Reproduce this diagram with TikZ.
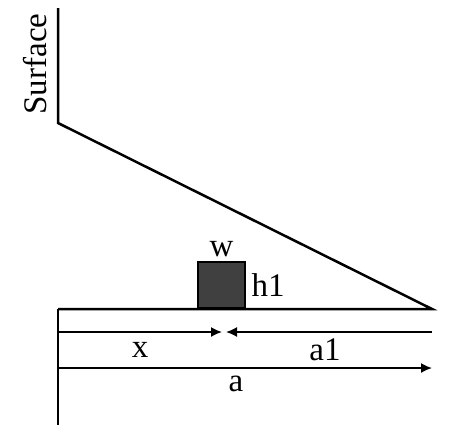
\documentclass[tikz,border=0pt]{standalone}
\usepackage{fontspec}
\setmainfont{Liberation Serif}
\usetikzlibrary{arrows.meta,positioning}
\definecolor{block-grey}{HTML}{404040}

\begin{document}
\begin{tikzpicture}[x=1pt,y=-1pt,font=\fontsize{33}{38}\selectfont,
    dim/.style={line width=1.6pt,-{Latex[length=11pt,width=10pt]}}]
  \useasboundingbox (0,0) rectangle (449,424);
  % outline of the section
  \coordinate (top) at (58,8);
  \coordinate (kink) at (58,123);
  \coordinate (toe) at (432,309);
  \coordinate (base) at (58,309);
  \coordinate (bottom) at (58,430);
  \draw[line width=2.5pt] (top) -- (kink) -- (toe) -- (base);
  \draw[line width=2.2pt] (base) -- (bottom);
  \node[rotate=90] (surface) at (35,64) {Surface};
  % block on the floor
  \node[draw=black,line width=2pt,fill=block-grey,minimum width=47pt,minimum height=46pt,inner sep=0pt,anchor=south] (block) at (221.5,309) {};
  \node[above=1pt of block] (w) {w};
  \node[right=2pt of block] (h1) {h1};
  % dimensions
  \coordinate (xs) at (58,332);
  \coordinate (xe) at (222,332);
  \coordinate (ae) at (226,332);
  \coordinate (as) at (432,332);
  \draw[dim] (xs) -- (xe);
  \draw[dim] (as) -- (ae);
  \node (x) at (140,350) {x};
  \node (a1) at (325,350) {a1};
  \coordinate (fs) at (58,368);
  \coordinate (fe) at (432,368);
  \draw[dim] (fs) -- (fe);
  \node (a) at (236,384) {a};
\end{tikzpicture}
\end{document}
